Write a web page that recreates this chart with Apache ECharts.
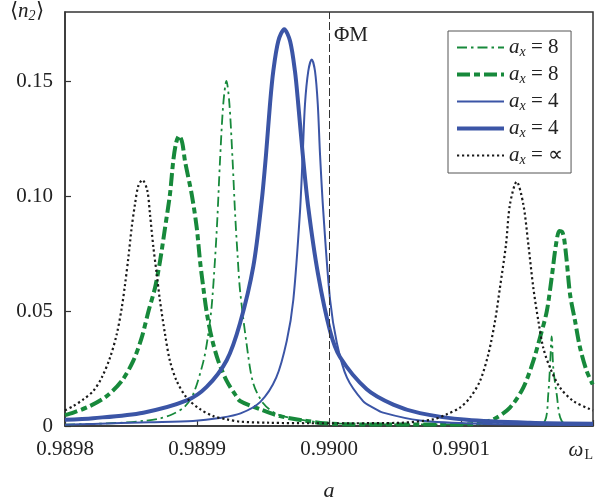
<!DOCTYPE html>
<html><head><meta charset="utf-8">
<script src="https://cdn.jsdelivr.net/npm/echarts@6/dist/echarts.min.js"></script>
<style>html,body{margin:0;padding:0;background:#fff}#c{width:600px;height:500px}</style>
</head><body><div id="c"></div>
<script>
// ---- axis ticks / labels ----
const xMin = 0.9898, xMax = 0.9902, xStep = 0.0001;
const xLabels = ['0.9898', '0.9899', '0.9900', '0.9901', '{w|ω}{l|L}'];
const yMin = 0, yMax = 0.18, yStep = 0.05;
const yLabels = ['0', '0.05', '0.10', '0.15'];
const phiM = 0.9900;

// ---- series: a_x = 8 (thin dash-dot) ----
const g8thinX = [0.9898000,0.9898214,0.9898417,0.9898591,0.9898720,0.9898818,0.9898909,0.9898972,0.9899048,0.9899083,0.9899111,0.9899136,0.9899154,0.9899174,0.9899199,0.9899223,0.9899245,0.9899270,0.9899288,0.9899307,0.9899326,0.9899376,0.9899424,0.9899500,0.9899604,0.9899755,0.9900008,0.9900538,0.9901144,0.9901560,0.9901636,0.9901661,0.9901674,0.9901687,0.9901699,0.9901725,0.9901763,0.9901864,0.9902000];
const g8thinY = [0.0006,0.0009,0.0014,0.0022,0.0033,0.0052,0.0085,0.0139,0.0280,0.0390,0.0520,0.0720,0.0900,0.1150,0.1400,0.1500,0.1405,0.1150,0.0930,0.0745,0.0590,0.0356,0.0190,0.0100,0.0052,0.0030,0.0012,0.0007,0.0008,0.0012,0.0022,0.0138,0.0254,0.0390,0.0254,0.0138,0.0022,0.0008,0.0004];

// ---- series: a_x = 8 (thick dashed) ----
const g8thickX = [0.9898000,0.9898063,0.9898189,0.9898316,0.9898430,0.9898517,0.9898581,0.9898631,0.9898682,0.9898720,0.9898758,0.9898795,0.9898820,0.9898842,0.9898865,0.9898888,0.9898909,0.9898960,0.9898998,0.9899023,0.9899048,0.9899073,0.9899111,0.9899161,0.9899225,0.9899288,0.9899326,0.9899477,0.9899629,0.9899831,0.9900008,0.9900386,0.9900840,0.9901093,0.9901245,0.9901371,0.9901472,0.9901548,0.9901598,0.9901649,0.9901687,0.9901720,0.9901745,0.9901765,0.9901780,0.9901801,0.9901826,0.9901864,0.9901902,0.9901952,0.9901998];
const g8thickY = [0.0047,0.0058,0.0087,0.0130,0.0196,0.0283,0.0384,0.0496,0.0601,0.0717,0.0862,0.1007,0.1152,0.1232,0.1262,0.1232,0.1152,0.1007,0.0862,0.0717,0.0601,0.0496,0.0384,0.0283,0.0196,0.0138,0.0109,0.0073,0.0043,0.0022,0.0010,0.0006,0.0006,0.0009,0.0029,0.0080,0.0167,0.0283,0.0384,0.0496,0.0645,0.0790,0.0848,0.0845,0.0819,0.0717,0.0573,0.0457,0.0340,0.0239,0.0181];

// ---- series: a_x = 4 (thin solid) ----
const b4thinX = [0.9898000,0.9898210,0.9898640,0.9898970,0.9899170,0.9899330,0.9899480,0.9899600,0.9899680,0.9899730,0.9899780,0.9899801,0.9899818,0.9899843,0.9899869,0.9899894,0.9899915,0.9899932,0.9899957,0.9900008,0.9900060,0.9900136,0.9900258,0.9900333,0.9900410,0.9900689,0.9901140,0.9902000];
const b4thinY = [0.0005,0.0009,0.0016,0.0022,0.0035,0.0055,0.0105,0.0210,0.0370,0.0550,0.0930,0.1181,0.1399,0.1543,0.1594,0.1543,0.1399,0.1181,0.0930,0.0550,0.0360,0.0210,0.0108,0.0080,0.0058,0.0024,0.0010,0.0004];

// ---- series: a_x = 4 (thick solid) ----
const b4thickX = [0.9898000,0.9898214,0.9898593,0.9898922,0.9899073,0.9899225,0.9899326,0.9899427,0.9899490,0.9899523,0.9899553,0.9899578,0.9899616,0.9899661,0.9899705,0.9899742,0.9899767,0.9899801,0.9899843,0.9899917,0.9900008,0.9900083,0.9900286,0.9900487,0.9900689,0.9901043,0.9901523,0.9902000];
const b4thickY = [0.0027,0.0034,0.0058,0.0111,0.0170,0.0286,0.0447,0.0695,0.0978,0.1181,0.1399,0.1543,0.1674,0.1725,0.1674,0.1543,0.1399,0.1181,0.0950,0.0660,0.0413,0.0300,0.0160,0.0093,0.0056,0.0027,0.0014,0.0010];

// ---- series: a_x = ∝ (dotted) ----
const infX = [0.9898000,0.9898063,0.9898139,0.9898214,0.9898278,0.9898341,0.9898392,0.9898430,0.9898455,0.9898480,0.9898505,0.9898530,0.9898555,0.9898586,0.9898623,0.9898644,0.9898669,0.9898695,0.9898720,0.9898758,0.9898795,0.9898846,0.9898922,0.9899023,0.9899123,0.9899225,0.9899326,0.9899550,0.9899860,0.9900160,0.9900540,0.9900790,0.9900892,0.9900992,0.9901068,0.9901144,0.9901207,0.9901258,0.9901295,0.9901341,0.9901371,0.9901422,0.9901472,0.9901510,0.9901548,0.9901586,0.9901623,0.9901674,0.9901750,0.9901850,0.9901977,0.9902000];
const infY = [0.0068,0.0087,0.0116,0.0152,0.0210,0.0297,0.0399,0.0514,0.0616,0.0732,0.0862,0.0964,0.1043,0.1070,0.1025,0.0920,0.0780,0.0660,0.0543,0.0399,0.0283,0.0196,0.0123,0.0073,0.0043,0.0029,0.0019,0.0014,0.0012,0.0012,0.0014,0.0029,0.0051,0.0080,0.0123,0.0196,0.0312,0.0457,0.0601,0.0790,0.0964,0.1062,0.0964,0.0790,0.0600,0.0457,0.0340,0.0254,0.0167,0.0109,0.0073,0.0068];

const legendText = {
  g8thin: '{i|a}{s|x} = 8',
  g8thick: '{i|a}{s|x} = 8',
  b4thin: '{i|a}{s|x} = 4',
  b4thick: '{i|a}{s|x} = 4',
  inf: '{i|a}{s|x} = ∝'
};

const FONT = "'Liberation Serif','Times New Roman',serif";
const GREEN = '#17893b', BLUE = '#3b55a6', BLACK = '#1a1a1a';
const zip = (xs, ys) => xs.map((x, i) => [x, ys[i]]);

const richBase = {
  i: {fontFamily: FONT, fontSize: 21, fontStyle: 'italic', color: '#222'},
  s: {fontFamily: FONT, fontSize: 14, fontStyle: 'italic', color: '#222', padding: [9, 0, 0, 0]},
  l: {fontFamily: FONT, fontSize: 14, color: '#222', padding: [9, 0, 0, 1]},
  w: {fontFamily: FONT, fontSize: 21, fontStyle: 'italic', color: '#222'}
};

const styles = {
  g8thin: {color: GREEN, width: 1.8, type: [10, 4, 2.5, 4]},
  g8thick: {color: GREEN, width: 4, type: [13, 4, 6, 4]},
  b4thin: {color: BLUE, width: 2, type: 'solid'},
  b4thick: {color: BLUE, width: 4, type: 'solid'},
  inf: {color: BLACK, width: 2.2, type: [2.2, 2.8]}
};

function mkLine(name, xs, ys) {
  const st = styles[name];
  return {
    name, type: 'line', data: zip(xs, ys), symbol: 'none', showSymbol: false,
    smooth: 0.3,
    lineStyle: {color: st.color, width: st.width, type: st.type, cap: 'butt', join: 'round'},
    itemStyle: {color: st.color}, emphasis: {disabled: true}
  };
}

const legendOrder = ['g8thin', 'g8thick', 'b4thin', 'b4thick', 'inf'];

const chart = echarts.init(document.getElementById('c'), null, {renderer: 'canvas'});
chart.setOption({
  animation: false,
  backgroundColor: '#fff',
  title: [
    {text: '⟨{i|n}{s|2}⟩', left: 10, top: 0, padding: 0,
     textStyle: {fontFamily: FONT, fontSize: 21, color: '#222', fontWeight: 'normal', rich: richBase}},
    {text: 'ΦM', left: 334, top: 25, padding: 0,
     textStyle: {fontFamily: FONT, fontSize: 21, color: '#222', fontWeight: 'normal'}}
  ],
  grid: {left: 65, right: 7, top: 12, bottom: 74, show: true, borderColor: '#333', borderWidth: 1.5,
         backgroundColor: 'transparent', containLabel: false, outerBoundsMode: 'none'},
  legend: {
    orient: 'vertical', left: 448, top: 31,
    padding: [6, 8, 6, 7], itemGap: 5, itemWidth: 47, itemHeight: 14,
    borderColor: '#555', borderWidth: 1, backgroundColor: '#fff',
    data: legendOrder.map(n => ({name: n, lineStyle: {width: styles[n].width, type: styles[n].type, color: styles[n].color}})),
    formatter: n => legendText[n],
    itemStyle: {color: 'rgba(0,0,0,0)', borderWidth: 0, opacity: 0},
    textStyle: {fontFamily: FONT, fontSize: 21, color: '#222', lineHeight: 20, rich: {
      i: {fontFamily: FONT, fontSize: 21, fontStyle: 'italic', color: '#222'},
      s: {fontFamily: FONT, fontSize: 14, fontStyle: 'italic', color: '#222', padding: [9, 0, 0, 0]}
    }},
    selectedMode: false
  },
  xAxis: {
    type: 'value', min: xMin, max: xMax, interval: xStep,
    name: 'a', nameLocation: 'middle', nameGap: 54, nameMoveOverlap: false,
    nameTextStyle: {fontFamily: FONT, fontSize: 22, fontStyle: 'italic', color: '#222'},
    axisLine: {show: true, lineStyle: {color: '#333', width: 1.5}},
    axisTick: {show: true, inside: true, length: 6, lineStyle: {color: '#333', width: 1.2}},
    splitLine: {show: false},
    axisLabel: {
      margin: 13, fontFamily: FONT, fontSize: 21, color: '#222',
      alignMaxLabel: 'right',
      formatter: v => { const k = Math.round((v - xMin) / xStep); return xLabels[k] !== undefined ? xLabels[k] : ''; },
      rich: richBase
    }
  },
  yAxis: {
    type: 'value', min: yMin, max: yMax, interval: yStep,
    axisLine: {show: true, lineStyle: {color: '#333', width: 1.5}},
    axisTick: {show: true, inside: true, length: 6, lineStyle: {color: '#333', width: 1.2}},
    splitLine: {show: false},
    axisLabel: {
      margin: 12, fontFamily: FONT, fontSize: 21, color: '#222', showMaxLabel: false,
      formatter: v => { const k = Math.round((v - yMin) / yStep); return (Math.abs(v - k * yStep) < 1e-9 && yLabels[k] !== undefined) ? yLabels[k] : ''; }
    }
  },
  series: [
    mkLine('g8thin', g8thinX, g8thinY),
    mkLine('g8thick', g8thickX, g8thickY),
    mkLine('b4thin', b4thinX, b4thinY),
    mkLine('b4thick', b4thickX, b4thickY),
    Object.assign(mkLine('inf', infX, infY), {
      markLine: {
        silent: true, symbol: ['none', 'none'], label: {show: false},
        lineStyle: {color: '#333', width: 1, type: [8, 3]},
        data: [{xAxis: phiM}]
      }
    })
  ]
});
</script></body></html>
